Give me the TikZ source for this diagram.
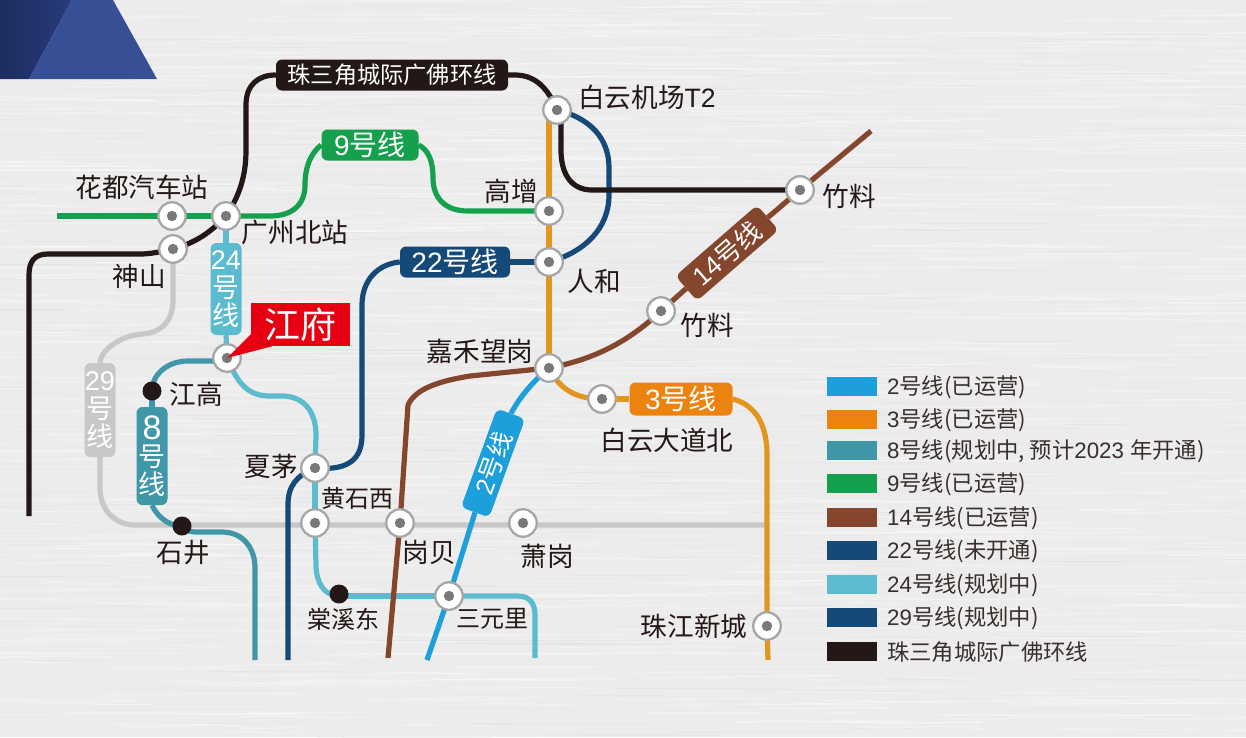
\documentclass[tikz,border=0pt]{standalone}
\usepackage{fontspec}
\setmainfont{Noto Sans CJK SC}
\newfontfamily\lat{Liberation Sans}
\pgfdeclarelayer{paper}\pgfdeclarelayer{lines}
\pgfsetlayers{paper,lines,main}
\definecolor{paperc}{HTML}{ECECEC}
\definecolor{inkc}{HTML}{231815}
\definecolor{navyc}{HTML}{203368}
\definecolor{navyd}{HTML}{1D2D5E}
\definecolor{navye}{HTML}{283B7C}
\definecolor{bluetri}{HTML}{374F95}
\definecolor{grnc}{HTML}{14A04C}
\definecolor{orgline}{HTML}{E2961F}
\definecolor{orgc}{HTML}{EC830F}
\definecolor{brnc}{HTML}{84462C}
\definecolor{skyc}{HTML}{1D9FDB}
\definecolor{dbluec}{HTML}{154A78}
\definecolor{ltbc}{HTML}{5CBBCF}
\definecolor{tealc}{HTML}{3F97A8}
\definecolor{gryc}{HTML}{C8C8C8}
\definecolor{redc}{HTML}{E60012}
\tikzset{
 x=1pt,y=-1pt,
 metro/.style={line width=5.2pt,line cap=butt,line join=round},
 stn/.style={circle,fill=white,draw=gray!70,line width=2.3pt,minimum size=27.5pt,inner sep=0},
 blk/.style={circle,fill=inkc,minimum size=19pt,inner sep=0},
 lbl/.style={text=inkc,font=\fontsize{26.6}{31}\selectfont,inner sep=0},
 lblsm/.style={text=inkc,font=\fontsize{24}{28}\selectfont,inner sep=0},
 pill/.style={rounded corners=6pt,inner sep=0,text=white,font=\fontsize{28}{31}\selectfont},
 vpill/.style={rounded corners=6pt,inner sep=0,text=white,align=center,minimum width=31pt,font=\fontsize{27}{31}\selectfont},
 swatch/.style={minimum width=50pt,minimum height=19pt,inner sep=0},
 legt/.style={anchor=west,text=inkc!90,font=\fontsize{22.3}{26}\selectfont,inner sep=0}
}
\newcommand{\stat}[3]{\node[stn] (#1) at (#2,#3) {};\fill[gray!95!black] (#1.center) circle (5.2);}
\begin{document}
\begin{tikzpicture}
\useasboundingbox (0,0) rectangle (1246,737);
\begin{pgfonlayer}{paper}
\fill[paperc] (0,0) rectangle (1246,737);
\pgfmathsetseed{7}
\foreach \i in {1,...,700}{
  \pgfmathsetmacro{\xa}{random(-100,1246)}
  \pgfmathsetmacro{\ya}{random(0,737)}
  \pgfmathsetmacro{\la}{random(50,260)}
  \pgfmathsetmacro{\da}{random(-3,3)}
  \draw[white,opacity=.3,line width=1.5pt,line cap=round] (\xa,\ya) .. controls (\xa+\la*.3,\ya+\da) and (\xa+\la*.6,\ya-\da) .. (\xa+\la,\ya);
}
\foreach \i in {1,...,300}{
  \pgfmathsetmacro{\xa}{random(-100,1246)}
  \pgfmathsetmacro{\ya}{random(0,737)}
  \pgfmathsetmacro{\la}{random(40,180)}
  \draw[gray!45,opacity=.14,line width=1pt,line cap=round] (\xa,\ya) -- (\xa+\la,\ya);
}
\shade[left color=navyd,right color=navye] (0,0) -- (72,0) -- (29,79) -- (0,79) -- cycle;
\fill[bluetri] (72,0) -- (113,0) -- (157,79) -- (29,79) -- cycle;
\end{pgfonlayer}

% stations
\stat{huadu}{172}{216}
\stat{gzbei}{226}{216}
\stat{shens}{173}{249}
\stat{jiangf}{227}{358}
\stat{xiamao}{315}{468}
\stat{hsx}{315}{523}
\stat{gangb}{400}{523}
\stat{xiaog}{523}{523}
\stat{sanyl}{449}{596}
\stat{baiy}{557}{110}
\stat{gaoz}{549}{211}
\stat{renh}{549}{262}
\stat{jiah}{549}{368}
\stat{zlA}{800}{190}
\stat{zlB}{661}{311}
\stat{bydd}{602}{399}
\stat{zjxc}{767}{626}
\node[blk] (jgao) at (152,391) {};
\node[blk] (shij) at (182,526) {};
\node[blk] (txd) at (339,594) {};

% line name plates
\node[pill,fill=inkc,minimum width=232pt,minimum height=31pt,font=\fontsize{23.2}{26}\selectfont] (pz) at (392,75) {珠三角城际广佛环线};
\node[pill,fill=grnc,minimum width=97pt,minimum height=31pt] (p9) at (370,145) {{\lat 9}号线};
\node[pill,fill=dbluec,minimum width=110pt,minimum height=31pt] (p22) at (455,262) {{\lat 22}号线};
\node[pill,fill=orgc,minimum width=103pt,minimum height=33pt] (p3) at (681,399) {{\lat 3}号线};
\node[pill,fill=brnc,minimum width=108pt,minimum height=33pt,rotate=41,font=\fontsize{26}{30}\selectfont] (p14) at (727,253) {{\lat 14}号线};
\node[pill,fill=skyc,minimum width=105pt,minimum height=30pt,rotate=70,font=\fontsize{25}{30}\selectfont] (p2) at (493,463) {{\lat 2}号线};
\node[vpill,fill=ltbc,minimum height=92pt] (p24) at (226,289) {{\lat 24}\\[-3pt]号\\[-3pt]线};
\node[vpill,fill=tealc,minimum height=98pt] (p8) at (152,456) {{\lat\fontsize{34}{31}\selectfont 8}\\[-4pt]号\\[-3pt]线};
\node[vpill,fill=gryc,minimum height=94pt] (p29) at (100,410) {{\lat 29}\\[-3pt]号\\[-3pt]线};

% free ends
\coordinate (blkEnd) at (29,516);
\coordinate (grnEnd) at (57,216);
\coordinate (orgEnd) at (768,660);
\coordinate (brnEnd) at (871,131);
\coordinate (brnLow) at (388,658);
\coordinate (twoEnd) at (427,660);
\coordinate (dbEnd) at (288,660);
\coordinate (ltbEnd) at (535,658);
\coordinate (tealEnd) at (255,660);
\coordinate (gryEnd) at (766,525);

\begin{pgfonlayer}{lines}
% 29 grey
\draw[metro,gryc] (shens.center) -- (173,300) .. controls (173,322) and (160,333) .. (142,334)
  .. controls (118,336) and (100,352) .. (p29.north);
\draw[metro,gryc] (p29.south) -- (100,488) .. controls (100,510) and (115,525) .. (135,525) -- (gryEnd);
% 8 teal
\draw[metro,tealc] ([yshift=-3pt]jiangf.center) -- (188,361) .. controls (168,361) and (152,374) .. (jgao.center);
\draw[metro,tealc] (jgao.center) -- (p8.north);
\draw[metro,tealc] (p8.south) .. controls (155,512) and (165,526) .. (shij.center);
\draw[metro,tealc] (shij.center) .. controls (186,531) and (190,532) .. (198,532) -- (222,532) .. controls (243,532) and (255,548) .. (255,568) -- (tealEnd);
% 24 light blue
\draw[metro,ltbc] (gzbei.center) -- (p24.north);
\draw[metro,ltbc] (p24.south) -- (jiangf.center);
\draw[metro,ltbc] (jiangf.center) .. controls (238,384) and (248,396) .. (270,396) -- (282,396)
  .. controls (304,396) and (316,412) .. (316,435) -- (xiamao.center);
\draw[metro,ltbc] (xiamao.center) -- (hsx.center);
\draw[metro,ltbc] (hsx.center) -- (316,565) .. controls (316,582) and (324,596) .. (339,596);
\draw[metro,ltbc] ([yshift=-2pt]txd.center) -- (sanyl.center);
\draw[metro,ltbc] (sanyl.center) -- (518,596) .. controls (530,596) and (535,604) .. (535,615) -- (ltbEnd);
% 22 dark blue
\draw[metro,dbluec] (p22.east) -- (renh.center);
\draw[metro,dbluec] (renh.center) .. controls (585,252) and (609,228) .. (609,195) -- (609,168)
  .. controls (609,138) and (590,118) .. (baiy.center);
\draw[metro,dbluec] (p22.west) .. controls (378,264) and (362,280) .. (362,305) -- (362,435)
  .. controls (362,458) and (350,471) .. (xiamao.center);
\draw[metro,dbluec] (xiamao.center) .. controls (296,476) and (288,486) .. (288,505) -- (dbEnd);
% 9 green
\draw[metro,grnc] (grnEnd) -- (huadu.center);
\draw[metro,grnc] (huadu.center) -- (gzbei.center);
\draw[metro,grnc] (gzbei.center) -- (270,216) .. controls (292,216) and (305,205) .. (305,185)
  .. controls (305,165) and (312,152) .. (p9.west);
\draw[metro,grnc] (p9.east) .. controls (428,150) and (433,160) .. (433,178)
  .. controls (433,198) and (445,211) .. (468,211) -- (gaoz.center);
% 3 orange
\draw[metro,orgline] ([xshift=-8pt]baiy.center) -- (gaoz.center);
\draw[metro,orgline] (gaoz.center) -- (renh.center);
\draw[metro,orgline] (renh.center) -- (jiah.center);
\draw[metro,orgline] (jiah.center) .. controls (558,386) and (572,399) .. (bydd.center);
\draw[metro,orgline] (bydd.center) -- (p3.west);
\draw[metro,orgline] (p3.east) .. controls (752,404) and (767,420) .. (767,455) -- (zjxc.center);
\draw[metro,orgline] (zjxc.center) -- (orgEnd);
% 2 blue
\draw[metro,skyc] (jiah.center) .. controls (530,384) and (518,400) .. (p2.east);
\draw[metro,skyc] (p2.west) -- (sanyl.center);
\draw[metro,skyc] (sanyl.center) -- (twoEnd);
% 14 brown
\draw[metro,brnc] (brnEnd) -- (zlA.center);
\draw[metro,brnc] (zlA.center) -- (p14.east);
\draw[metro,brnc] (p14.west) -- (zlB.center);
\draw[metro,brnc] (zlB.center) .. controls (625,345) and (590,360) .. (jiah.center);
\draw[metro,brnc] (jiah.center) -- (470,376) .. controls (440,381) and (416,388) .. (408,405) -- (gangb.center);
\draw[metro,brnc] (gangb.center) -- (brnLow);
% black
\draw[metro,inkc] (blkEnd) -- (29,275) .. controls (29,262) and (34,254) .. (48,254) -- (140,254)
  .. controls (150,254) and (160,252) .. (shens.center);
\draw[metro,inkc] (shens.center) .. controls (195,243) and (210,233) .. (gzbei.center);
\draw[metro,inkc] (gzbei.center) .. controls (240,195) and (246,175) .. (246,150) -- (246,105)
  .. controls (246,85) and (258,75) .. (pz.west);
\draw[metro,inkc] (pz.east) -- (515,75) .. controls (535,75) and (548,88) .. (baiy.center);
\draw[metro,inkc] ([xshift=4pt]baiy.center) -- (561,150) .. controls (561,175) and (572,190) .. (592,190) -- (zlA.center);
\end{pgfonlayer}

% callout
\fill[redc] (251,303) rectangle (350,346);
\fill[redc] (227,358) -- (252,333) -- (252,346) -- (277,345) -- cycle;
\node[font=\fontsize{36}{40}\selectfont,text=white,inner sep=0] (jf) at (300,325) {江府};

% station labels
\node[lbl] (l1) at (142,187) {花都汽车站};
\node[lbl] (l2) at (295,233) {广州北站};
\node[lbl] (l3) at (139,276) {神山};
\node[lbl] (l4) at (196,394) {江高};
\node[lbl] (l5) at (183,553) {石井};
\node[lbl] (l6) at (271,466) {夏茅};
\node[lblsm] (l7) at (357,498) {黄石西};
\node[lbl] (l8) at (429,552) {岗贝};
\node[lbl] (l9) at (547,556) {萧岗};
\node[lblsm] (l10) at (343,619) {棠溪东};
\node[lblsm] (l11) at (492,619) {三元里};
\node[lbl] (l12) at (647,97) {白云机场{\lat T2}};
\node[lbl] (l13) at (511,191) {高增};
\node[lbl] (l14) at (594,281) {人和};
\node[lbl] (l15) at (849,196) {竹料};
\node[lbl] (l16) at (707,325) {竹料};
\node[lbl] (l17) at (480,351) {嘉禾望岗};
\node[lbl] (l18) at (667,440) {白云大道北};
\node[lbl] (l19) at (694,626) {珠江新城};

% legend
\node[swatch,fill=skyc] (s1) at (852,386.5) {};
\node[swatch,fill=orgc] (s2) at (852,419) {};
\node[swatch,fill=tealc] (s3) at (852,450.5) {};
\node[swatch,fill=grnc] (s4) at (852,483.5) {};
\node[swatch,fill=brnc] (s5) at (852,517) {};
\node[swatch,fill=dbluec] (s6) at (852,550.5) {};
\node[swatch,fill=ltbc] (s7) at (852,584.5) {};
\node[swatch,fill=dbluec] (s8) at (852,617.5) {};
\node[swatch,fill=inkc] (s9) at (852,651) {};
\node[legt] (t1) at (887,387.5) {{\lat 2}号线(已运营)};
\node[legt] (t2) at (887,420) {{\lat 3}号线(已运营)};
\node[legt] (t3) at (887,451.5) {{\lat 8}号线(规划中, 预计{\lat 2023 }年开通)};
\node[legt] (t4) at (887,484.5) {{\lat 9}号线(已运营)};
\node[legt] (t5) at (887,518) {{\lat 14}号线(已运营)};
\node[legt] (t6) at (887,551.5) {{\lat 22}号线(未开通)};
\node[legt] (t7) at (887,585.5) {{\lat 24}号线(规划中)};
\node[legt] (t8) at (887,618.5) {{\lat 29}号线(规划中)};
\node[legt] (t9) at (887,652) {珠三角城际广佛环线};
\end{tikzpicture}
\end{document}
